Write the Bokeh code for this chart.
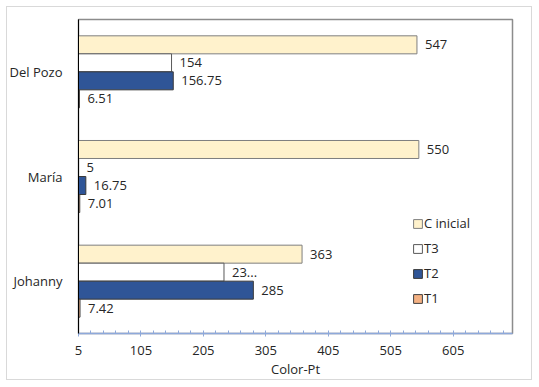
from bokeh.plotting import figure
from bokeh.models import (ColumnDataSource, FactorRange, Range1d, FixedTicker,
                          LabelSet, Legend, LegendItem, Title)
from bokeh.transform import dodge
from bokeh.embed import file_html
from bokeh.resources import INLINE
from bokeh.core.properties import value

categories = ["Johanny", "María", "Del Pozo"]
series = ["C inicial", "T3", "T2", "T1"]
c_inicial = [363, 550, 547]
t3 = [238, 5, 154]
t2 = [285, 16.75, 156.75]
t1 = [7.42, 7.01, 6.51]
labels_c_inicial = ["363", "550", "547"]
labels_t3 = ["23...", "5", "154"]
labels_t2 = ["285", "16.75", "156.75"]
labels_t1 = ["7.42", "7.01", "6.51"]
x_ticks = [5, 105, 205, 305, 405, 505, 605]
x_minor = [25, 45, 65, 85, 125, 145, 165, 185, 225, 245, 265, 285, 325, 345, 365, 385,
           425, 445, 465, 485, 525, 545, 565, 585, 625, 645, 665, 685]
x_title = "Color-Pt"

values = [c_inicial, t3, t2, t1]
labels = [labels_c_inicial, labels_t3, labels_t2, labels_t1]
fills = ["#FFF2CC", "#FFFFFF", "#2F5597", "#F4B183"]
lines = ["#7F7F7F", "#595959", "#3A3A3A", "#404040"]

FONT = "Open Sans"
TXT = "#262626"

p = figure(width=538, height=386, output_backend="svg", toolbar_location=None,
           y_range=FactorRange(factors=categories, range_padding=0),
           x_range=Range1d(5, 700),
           min_border_left=78, min_border_right=26, min_border_top=19, min_border_bottom=53,
           border_fill_color=None,
           styles={"background": "#FFFFFF",
                   "box-shadow": "inset 0 0 0 6px #FFFFFF, inset 0 0 0 7px #D9D9D9"})
p.xgrid.visible = False
p.ygrid.visible = False
p.background_fill_color = "#FFFFFF"
p.outline_line_color = "#8C8C8C"
p.outline_line_width = 1.5

h = 0.172
items = []
for i, (name, vals, lbls, fc, lc) in enumerate(zip(series, values, labels, fills, lines)):
    src = ColumnDataSource(dict(cat=categories, val=vals, lbl=lbls))
    off = (1.5 - i) * h
    r = p.hbar(y=dodge("cat", off, range=p.y_range), right="val", left=0, height=h,
               source=src, fill_color=fc, line_color=lc, line_width=1)
    items.append(LegendItem(label=name, renderers=[r]))
    ls = LabelSet(x="val", y=dodge("cat", off, range=p.y_range), text="lbl", source=src,
                  x_offset=8, text_baseline="middle", text_font=value(FONT),
                  text_font_size="13px", text_color=TXT)
    p.add_layout(ls)

legend = Legend(items=items, location=(334, 26), padding=0, margin=0,
                border_line_color=None, background_fill_alpha=0,
                glyph_width=11, glyph_height=11, label_height=16, spacing=7,
                label_standoff=1, label_text_font=FONT, label_text_font_size="13px",
                label_text_color=TXT)
p.add_layout(legend, "center")

xa = p.xaxis[0]
xa.ticker = FixedTicker(ticks=x_ticks, minor_ticks=x_minor)
xa.axis_line_color = "#8EA9DB"
xa.axis_line_width = 1.5
xa.major_tick_line_color = "#8EA9DB"
xa.minor_tick_line_color = "#8EA9DB"
xa.major_tick_in = 3
xa.major_tick_out = 3
xa.minor_tick_in = 3
xa.minor_tick_out = 0
xa.major_label_standoff = 9
xa.major_label_text_font = FONT
xa.major_label_text_font_size = "13px"
xa.major_label_text_color = TXT

ya = p.yaxis[0]
ya.axis_line_color = "#000000"
ya.major_tick_line_color = None
ya.minor_tick_line_color = None
ya.major_label_standoff = 10
ya.major_label_text_font = FONT
ya.major_label_text_font_size = "13px"
ya.major_label_text_color = TXT

p.add_layout(Title(text=x_title, align="center", offset=20, standoff=1,
                   text_font=FONT, text_font_size="13px", text_font_style="normal",
                   text_color=TXT), "below")

open("out.html", "w").write(file_html(p, INLINE))
